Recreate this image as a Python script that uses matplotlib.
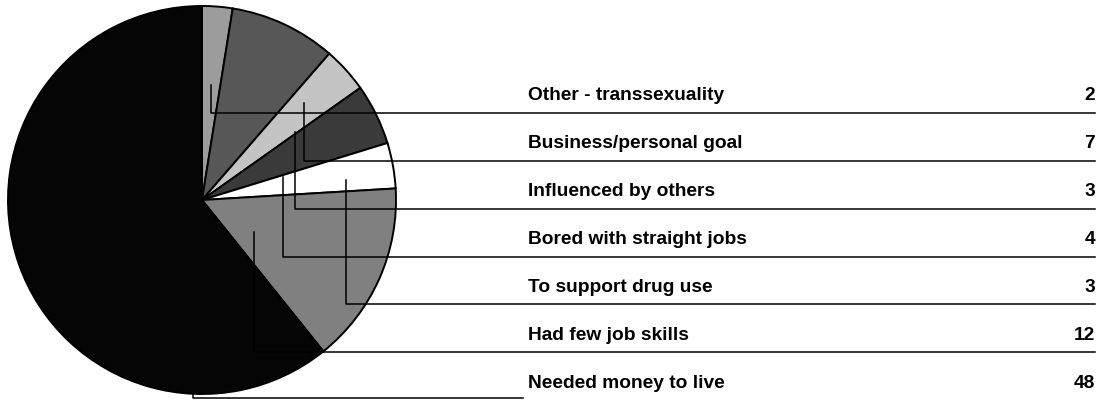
import matplotlib.pyplot as plt
import numpy as np

plt.rcParams['font.family'] = ['Liberation Sans', 'DejaVu Sans']

reasons = ['Other - transsexuality', 'Business/personal goal', 'Influenced by others',
           'Bored with straight jobs', 'To support drug use', 'Had few job skills',
           'Needed money to live']
counts = [2, 7, 3, 4, 3, 12, 48]
shades = ['#9c9c9c', '#575757', '#c4c4c4', '#3a3a3a', '#ffffff', '#808080', '#050505']

W, H = 1098, 401

fig = plt.figure(figsize=(W / 100, H / 100), dpi=100)
ax = fig.add_axes([0, 0, 1, 1])

# pie in pixel units, y measured upwards
cx, cy, r = 202, H - 200, 194
ax.pie(counts, colors=shades, startangle=90, counterclock=False,
       center=(cx, cy), radius=r,
       wedgeprops=dict(edgecolor='black', linewidth=1.4))

ax.set_xlim(0, W)
ax.set_ylim(0, H)
ax.set_aspect('auto')
ax.axis('off')

# label rows on the right
row_y = np.linspace(96, 383, len(reasons))
line_y = np.minimum(row_y + 17, 398)

# leader lines: start point inside the pie, drop down, then run right
lead_x = [211, 304, 295, 283, 346, 254, 193]
lead_top = [85, 103, 132, 177, 180, 232, 392]
line_end = [1095] * 6 + [523]

for i, (name, n) in enumerate(zip(reasons, counts)):
    ax.text(528, H - row_y[i], name, fontsize=13.8, fontweight='bold',
            ha='left', va='center')
    ax.text(1095, H - row_y[i], str(n), fontsize=13.8, fontweight='bold',
            ha='right', va='center')
    ax.plot([lead_x[i], lead_x[i], line_end[i]],
            [H - lead_top[i], H - line_y[i], H - line_y[i]],
            color='black', linewidth=1.1, zorder=5)

fig.savefig('out.png', dpi=100)
